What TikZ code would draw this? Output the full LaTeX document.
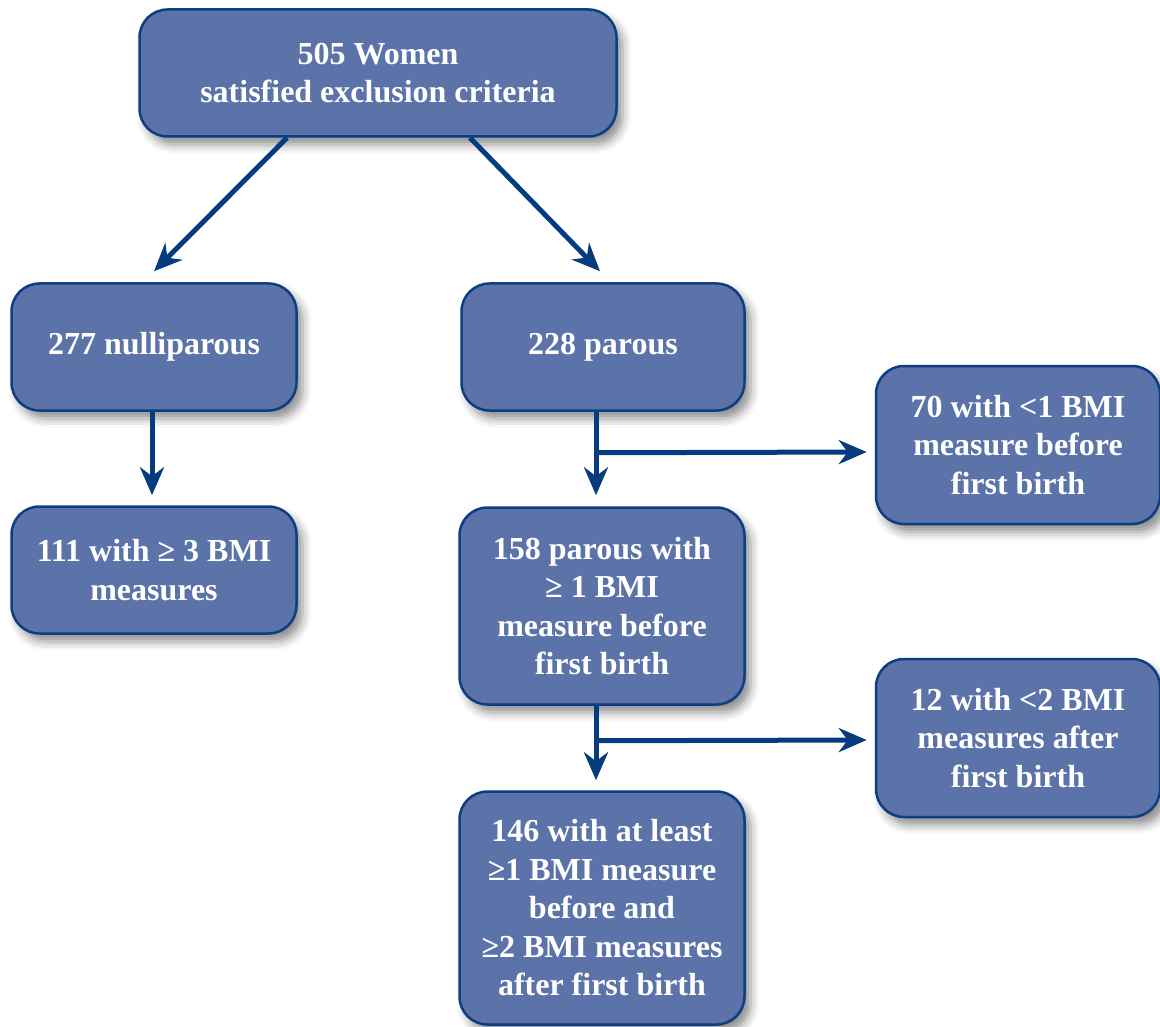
\documentclass[tikz,border=0pt]{standalone}
\usepackage{fontspec}
\setmainfont{Liberation Serif}
\usetikzlibrary{arrows.meta,shadows.blur}
\definecolor{boxfill}{RGB}{91,115,168}
\definecolor{boxline}{RGB}{12,62,130}
\definecolor{arrowblue}{RGB}{5,60,128}

\begin{document}
\begin{tikzpicture}[x=1pt,y=-1pt,
    block/.style={draw=boxline, line width=2.5pt, fill=boxfill, rounded corners=28pt,
        text=white, font=\fontsize{32}{38.5}\selectfont\bfseries, align=center, inner sep=0pt,
        blur shadow={shadow xshift=6pt, shadow yshift=-8pt, shadow blur radius=9pt, shadow opacity=45}},
    arr/.style={draw=arrowblue, line width=5pt, -{Stealth[length=28pt,width=24pt,inset=9pt]}}]
    \useasboundingbox (0,0) rectangle (1160,1027);

    % First, locate each of the boxes and name them
        \node[block, minimum width=477pt, minimum height=127pt] (top) at (378,73) {505 Women\\satisfied exclusion criteria};
        \node[block, minimum width=285pt, minimum height=127pt] (nulli) at (154,347) {277 nulliparous};
        \node[block, minimum width=283pt, minimum height=127pt] (parous) at (603,347) {228 parous};
        \node[block, minimum width=285pt, minimum height=127pt] (three) at (154,570) {111 with ≥ 3 BMI\\measures};
        \node[block, minimum width=284pt, minimum height=158pt] (lessone) at (1018,445) {70 with <1 BMI\\measure before\\first birth};
        \node[block, minimum width=285pt, minimum height=197pt] (oneplus) at (602,606) {158 parous with\\≥ 1 BMI\\measure before\\first birth};
        \node[block, minimum width=284pt, minimum height=158pt] (lesstwo) at (1018,738) {12 with <2 BMI\\measures after\\first birth};
        \node[block, minimum width=285pt, minimum height=233pt] (final) at (602,908) {146 with at least\\≥1 BMI measure\\before and\\≥2 BMI measures\\after first birth};

    % Now draw the arrows:
        \draw[arr] ([xshift=-91pt]top.south) -- ([yshift=11pt]nulli.north);
        \draw[arr] ([xshift=92pt]top.south) -- ([xshift=-3pt,yshift=11pt]parous.north);
        \draw[arr] ([xshift=-2pt]nulli.south) -- ([xshift=-2pt,yshift=10pt]three.north);
        \draw[arr] ([xshift=-7pt]parous.south) -- ([xshift=-6pt,yshift=11pt]oneplus.north);
        \draw[arr] ([xshift=-7pt,yshift=-41pt]parous.south) -- ([xshift=-8pt,yshift=-7pt]lessone.west);
        \draw[arr] ([xshift=-6pt]oneplus.south) -- ([xshift=-6pt,yshift=10pt]final.north);
        \draw[arr] ([xshift=-6pt,yshift=-35pt]oneplus.south) -- ([xshift=-8pt,yshift=-2pt]lesstwo.west);
    \end{tikzpicture}
\end{document}
